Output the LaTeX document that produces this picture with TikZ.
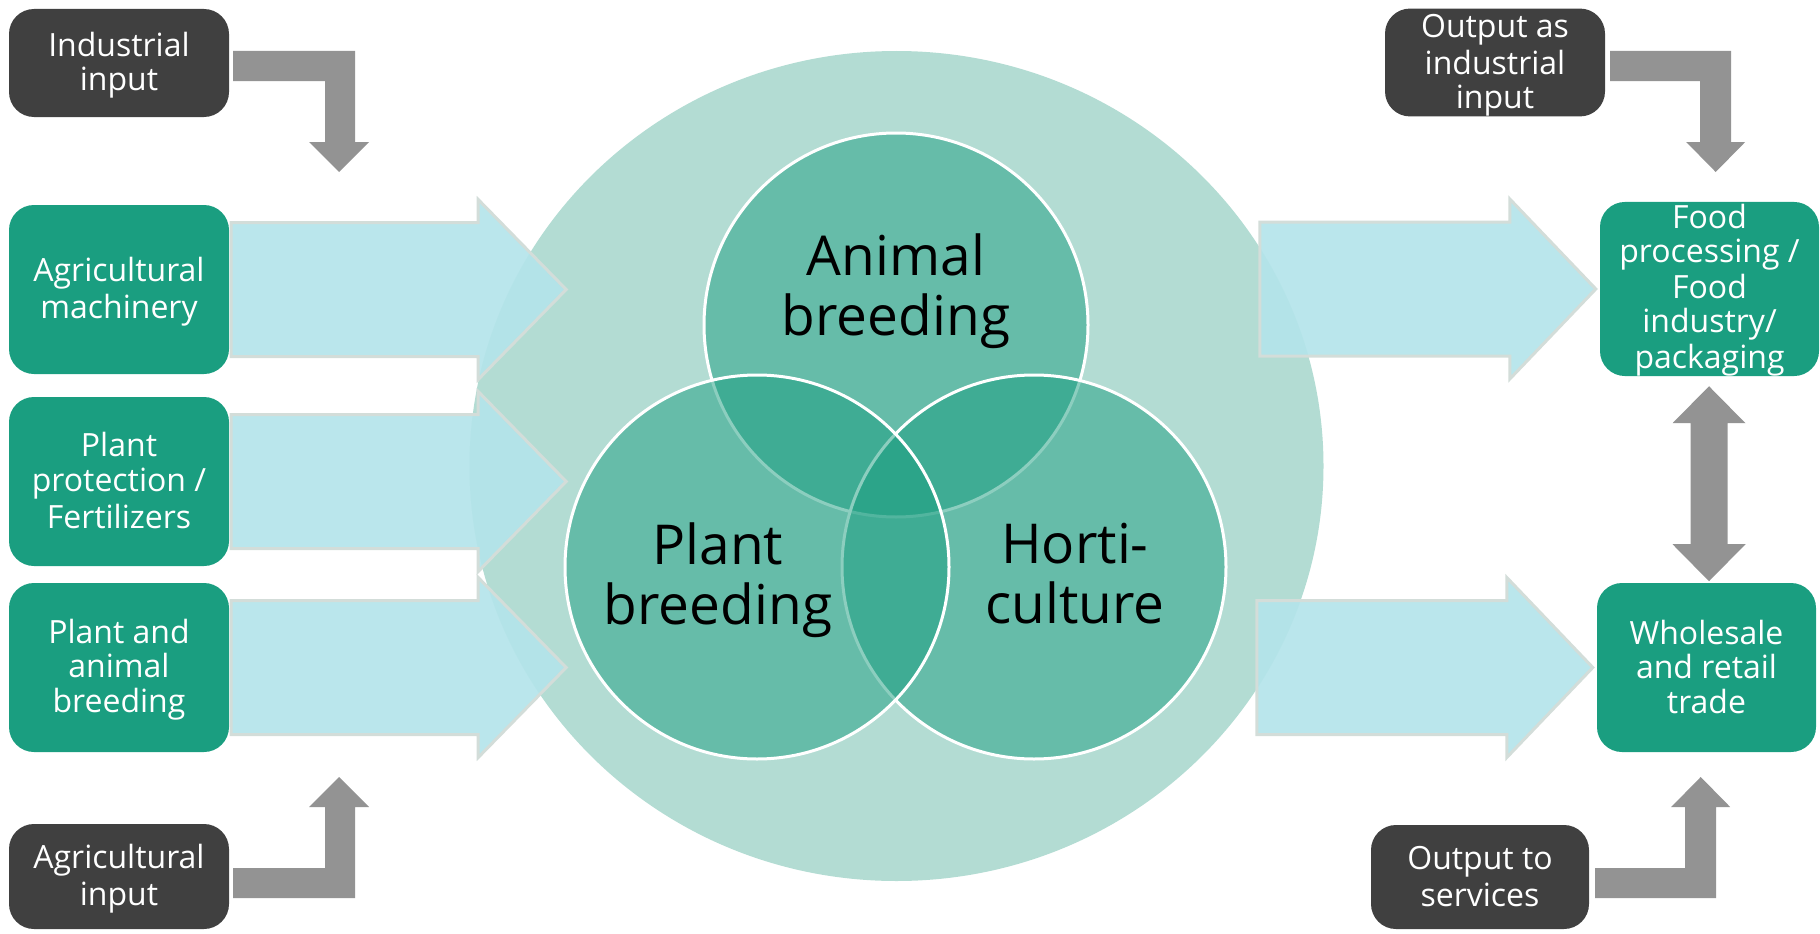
\documentclass[tikz,border=0pt]{standalone}
\usepackage{fontspec}
\setmainfont{Open Sans}
\definecolor{tealc}{HTML}{1A9E80}
\definecolor{darkc}{HTML}{404040}
\definecolor{grayarr}{HTML}{939393}
\definecolor{bigc}{HTML}{B3DCD3}
\definecolor{blueF}{HTML}{B4E4EA}
\definecolor{blueB}{HTML}{D3DDD9}
\newcommand\bs{\rule[-6pt]{0pt}{34.5pt}}
\newcommand\fs{\rule[-7pt]{0pt}{34pt}}
\begin{document}
\begin{tikzpicture}[x=1pt,y=-1pt,
  box/.style={rounded corners=25pt, minimum width=220pt, align=center, text=white,
    font=\fontsize{32}{34.5}\selectfont, inner sep=0pt},
  darkbox/.style={box, fill=darkc},
  tealbox/.style={box, fill=tealc},
  venn/.style={circle, minimum size=384pt, inner sep=0pt, fill=tealc, fill opacity=0.5,
    draw=white, draw opacity=1, line width=3pt},
  vennlabel/.style={align=center, text=black, inner sep=0pt, font=\fontsize{55}{58}\selectfont},
  blockarrow/.style={fill=blueF, fill opacity=0.92, draw=blueB, line width=3pt, line join=miter},
  grayarrow/.style={fill=grayarr}
]
\useasboundingbox (0,0) rectangle (1820,934);

% big background circle
\fill[bigc] (896.5,466) ellipse [x radius=427, y radius=415];

% left boxes
\node[darkbox, minimum height=108pt] (ind)  at (119,63)    {\bs Industrial\\\bs input};
\node[tealbox, minimum height=169pt] (mach) at (119,289.5) {\bs Agricultural\\\bs machinery};
\node[tealbox, minimum height=169pt] (prot) at (119,481.5) {\bs Plant\\\bs protection /\\\bs Fertilizers};
\node[tealbox, minimum height=169pt] (breed) at (119,667.5) {\bs Plant and\\\bs animal\\\bs breeding};
\node[darkbox, minimum height=105pt] (agin) at (119,876.5) {\bs Agricultural\\\bs input};

% right boxes
\node[darkbox, minimum height=107pt] (outind) at (1495,62.5) {\bs Output as\\\bs industrial\\\bs input};
\node[tealbox, minimum width=219pt, minimum height=170pt, font=\fontsize{32}{34}\selectfont] (food) at (1709.5,289)
  {\fs Food\\\fs processing /\\\fs Food\\\fs industry/\\\fs packaging};
\node[tealbox, minimum width=219pt, minimum height=169pt] (whole) at (1706.5,667.5) {\bs Wholesale\\\bs and retail\\\bs trade};
\node[darkbox, minimum width=218pt, minimum height=104pt] (outserv) at (1480,877) {\bs Output to\\\bs services};

% left block arrows (from box east)
\foreach \b in {mach,prot,breed}{
  \draw[blockarrow, shift={(\b.east)}] (2,-67) -- (249,-67) -- (249,-90) -- (337,0)
    -- (249,90) -- (249,67) -- (2,67) -- cycle;
}
% right block arrows (to box west)
\foreach \b in {food,whole}{
  \draw[blockarrow, shift={(\b.west)}] (-340,-67) -- (-90,-67) -- (-90,-90) -- (-4,0)
    -- (-90,90) -- (-90,67) -- (-340,67) -- cycle;
}

% Venn circles
\node[venn] (animal) at (896,325) {};
\node[venn] (horti)  at (1034,567) {};
\node[venn] (plant)  at (757,567) {};
\node[vennlabel] (animalL) at (896,293) {\strut Animal\\\strut breeding};
\node[vennlabel] (plantL)  at (718,582) {\strut Plant\\\strut breeding};
\node[vennlabel] (hortiL)  at (1075,582) {\strut Horti-\\\strut culture};

% gray elbow arrows
\fill[grayarrow, shift={(ind.east)}] (4,-12) -- (126,-12) -- (126,79) -- (140,79) -- (110,109)
  -- (80,79) -- (96,79) -- (96,18) -- (4,18) -- cycle;
\fill[grayarrow, shift={(agin.east)}] (4,21.5) -- (126,21.5) -- (126,-69.5) -- (140,-69.5) -- (110,-99.5)
  -- (80,-69.5) -- (96,-69.5) -- (96,-8.5) -- (4,-8.5) -- cycle;
\fill[grayarrow, shift={(outind.east)}] (5,-11.5) -- (126,-11.5) -- (126,79.5) -- (140,79.5) -- (110.5,109.5)
  -- (81,79.5) -- (95,79.5) -- (95,18.5) -- (5,18.5) -- cycle;
\fill[grayarrow, shift={(outserv.east)}] (6,21) -- (127,21) -- (127,-70) -- (141,-70) -- (111.5,-100)
  -- (82,-70) -- (96,-70) -- (96,-9) -- (6,-9) -- cycle;
% double arrow between food and wholesale
\fill[grayarrow, shift={(food.south)}] (-0.5,10) -- (36,47) -- (18,47) -- (18,168) -- (36,168)
  -- (-0.5,205) -- (-37,168) -- (-19,168) -- (-19,47) -- (-37,47) -- cycle;
\end{tikzpicture}
\end{document}
